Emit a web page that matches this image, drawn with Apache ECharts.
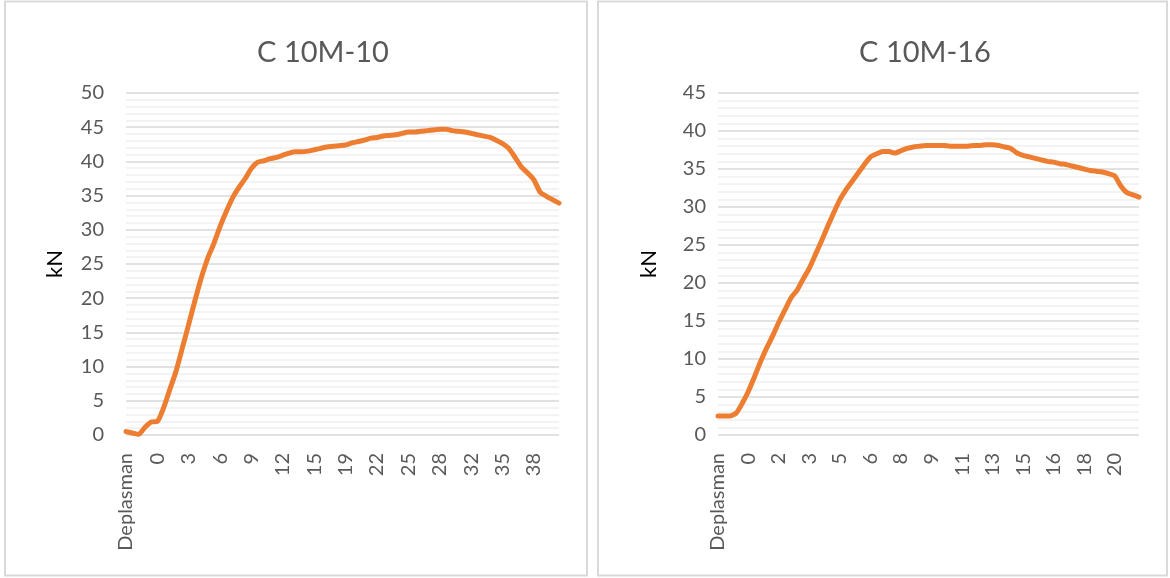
<!DOCTYPE html>
<html>
<head>
<meta charset="utf-8">
<script src="https://cdn.jsdelivr.net/npm/echarts@6/dist/echarts.min.js"></script>
<style>
html,body{margin:0;padding:0;background:#fff}
#main{width:1170px;height:578px}
</style>
</head>
<body>
<div id="main"></div>
<script>
// C 10M-10 : displacement categories (as shown by Excel) and load in kN
var catsA = ['Deplasman','-3','-2','-2','-1','0','1','1','2','3',
    '3','4','4','5','6','6','7','8','8','9',
    '9','10','11','11','12','12','13','14','14','15',
    '15','16','17','17','18','19','19','20','21','21',
    '22','23','23','24','24','25','26','26','27','27',
    '28','29','29','30','31','32','32','33','33','34',
    '35','35','36','37','37','38','39','39','40','40'];
var loadA = [0.5,0.3,0.1,1.1,1.9,2.0,4.0,6.7,9.4,12.8,
    16.2,19.7,23.0,25.8,28.0,30.5,32.7,34.7,36.2,37.5,
    39.0,39.9,40.1,40.4,40.6,40.9,41.2,41.4,41.4,41.5,
    41.7,41.9,42.1,42.2,42.3,42.4,42.7,42.9,43.1,43.4,
    43.5,43.7,43.8,43.9,44.1,44.3,44.3,44.4,44.5,44.6,
    44.7,44.7,44.5,44.4,44.3,44.1,43.9,43.7,43.5,43.1,
    42.6,41.9,40.6,39.2,38.3,37.3,35.5,34.9,34.4,33.9];

// C 10M-16
var catsB = ['Deplasman','-2','-1','-1','0','0','0','1','1','1',
    '2','2','2','3','3','3','4','4','4','5',
    '5','5','5','6','6','6','7','7','7','8',
    '8','8','9','9','9','9','10','10','10','11',
    '11','11','12','12','12','13','13','13','14','14',
    '15','15','15','16','16','16','16','17','17','17',
    '18','18','18','19','19','20','20','20','21','21'];
var loadB = [2.5,2.5,2.5,2.9,4.2,5.8,7.7,9.7,11.5,13.1,
    14.9,16.5,18.1,19.1,20.6,22.0,23.8,25.6,27.5,29.3,
    31.0,32.3,33.4,34.5,35.6,36.6,37.0,37.3,37.3,37.1,
    37.4,37.7,37.9,38.0,38.1,38.1,38.1,38.1,38.0,38.0,
    38.0,38.0,38.1,38.1,38.2,38.2,38.1,37.9,37.7,37.1,
    36.8,36.6,36.4,36.2,36.0,35.9,35.7,35.6,35.4,35.2,
    35.0,34.8,34.7,34.6,34.4,34.1,32.8,31.9,31.6,31.3];

var titles = ['C 10M-10', 'C 10M-16'];
var yMax = [50, 45];

var font = 'Lato, "Open Sans", sans-serif';
var chart = echarts.init(document.getElementById('main'));

function xAxisFor(idx, cats) {
    return {
        type: 'category', gridIndex: idx, data: cats, boundaryGap: false,
        axisLine: {show: false}, axisTick: {show: false},
        axisLabel: {interval: 4, rotate: 90, margin: 18, color: '#595959',
            fontSize: 20, fontFamily: font}
    };
}
function yAxisFor(idx, max, labelGap, nameGap) {
    return {
        type: 'value', gridIndex: idx, min: 0, max: max, interval: 5,
        name: 'kN', nameLocation: 'middle', nameGap: nameGap, nameRotate: 90,
        nameTextStyle: {color: '#000', fontSize: 22, fontFamily: font},
        axisLine: {show: false}, axisTick: {show: false},
        axisLabel: {margin: labelGap, color: '#595959', fontSize: 20, fontFamily: font},
        splitLine: {lineStyle: {color: '#d9d9d9', width: 1.5}},
        minorTick: {show: false, splitNumber: 5},
        minorSplitLine: {show: true, lineStyle: {color: '#f0f0f0', width: 1.5}}
    };
}
function lineFor(idx, vals) {
    return {
        type: 'line', xAxisIndex: idx, yAxisIndex: idx, data: vals,
        showSymbol: false, symbol: 'none', smooth: 0.2,
        lineStyle: {color: '#ED7D31', width: 5, cap: 'round', join: 'round'}
    };
}

chart.setOption({
    animation: false,
    title: [
        {text: titles[0], left: 318, top: 33, textAlign: 'center',
            textStyle: {color: '#595959', fontSize: 29, fontWeight: 'normal', fontFamily: font}},
        {text: titles[1], left: 920, top: 33, textAlign: 'center',
            textStyle: {color: '#595959', fontSize: 29, fontWeight: 'normal', fontFamily: font}}
    ],
    graphic: [
        {type: 'rect', shape: {x: 5, y: 1.5, width: 582, height: 574},
            style: {fill: 'none', stroke: '#d9d9d9', lineWidth: 2}},
        {type: 'rect', shape: {x: 598, y: 1.5, width: 569, height: 574},
            style: {fill: 'none', stroke: '#d9d9d9', lineWidth: 2}}
    ],
    grid: [
        {left: 126, right: 611, top: 93, bottom: 143},
        {left: 718, right: 31, top: 93, bottom: 143}
    ],
    xAxis: [xAxisFor(0, catsA), xAxisFor(1, catsB)],
    yAxis: [yAxisFor(0, yMax[0], 22, 60), yAxisFor(1, yMax[1], 12, 58)],
    series: [lineFor(0, loadA), lineFor(1, loadB)]
});
</script>
</body>
</html>
